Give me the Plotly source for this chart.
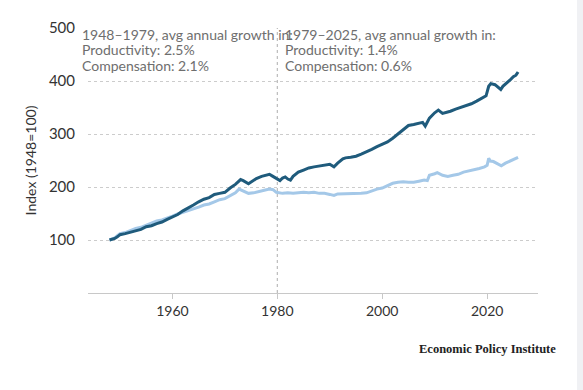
import plotly.graph_objects as go

prod_years = [1948.0, 1948.5, 1949.0, 1949.5, 1950.0, 1951.0, 1952.0, 1953.0, 1954.0, 1955.0,
              1956.0, 1957.0, 1958.0, 1959.0, 1960.0, 1961.0, 1962.0, 1963.0, 1964.0, 1965.0,
              1966.0, 1967.0, 1968.0, 1969.0, 1970.0, 1971.0, 1972.0, 1973.0, 1973.5, 1974.5,
              1975.0, 1976.0, 1977.0, 1978.0, 1978.5, 1979.0, 1979.5, 1980.5, 1981.0, 1981.5,
              1982.0, 1982.5, 1983.0, 1984.0, 1985.0, 1986.0, 1987.0, 1988.0, 1989.0, 1990.0,
              1990.8, 1991.5, 1992.5, 1993.0, 1994.0, 1995.0, 1996.0, 1997.0, 1998.0, 1999.0,
              2000.0, 2001.0, 2002.0, 2002.5, 2003.5, 2004.5, 2005.0, 2006.0, 2007.0, 2007.7,
              2008.2, 2009.0, 2010.0, 2010.7, 2011.5, 2012.0, 2013.0, 2014.0, 2015.0, 2016.0,
              2017.0, 2018.0, 2019.0, 2019.8, 2020.3, 2020.7, 2021.5, 2022.0, 2022.6, 2023.0,
              2024.0, 2024.5, 2025.0, 2025.5, 2025.9]
productivity = [100, 101, 103, 106, 110, 112, 115, 118, 120, 125,
                127, 131, 134, 139, 143, 148, 155, 160, 166, 172,
                177, 180, 186, 188, 190, 198, 205, 214, 212, 206,
                209, 216, 220, 222, 224, 221, 218, 212, 217, 219,
                215, 213, 220, 228, 232, 236, 238, 240, 242, 243,
                238, 245, 253, 255, 256, 258, 262, 266, 271, 276,
                280, 285, 292, 296, 305, 312, 316, 318, 320, 322,
                315, 330, 340, 345, 339, 340, 343, 347, 350, 353,
                357, 362, 368, 372, 390, 395, 393, 388, 384, 390,
                398, 403, 408, 411, 417]

comp_years = [1948.0, 1948.5, 1949.0, 1949.5, 1950.0, 1951.0, 1952.0, 1953.0, 1954.0, 1955.0,
              1956.0, 1957.0, 1958.0, 1959.0, 1960.0, 1961.0, 1962.0, 1963.0, 1964.0, 1965.0,
              1966.0, 1967.0, 1968.0, 1969.0, 1970.0, 1971.0, 1972.0, 1972.7, 1973.5, 1974.5,
              1975.5, 1976.5, 1977.5, 1978.5, 1979.2, 1979.8, 1981.0, 1982.0, 1983.0, 1984.0,
              1985.0, 1986.0, 1987.0, 1988.0, 1989.0, 1990.0, 1990.8, 1991.5, 1992.5, 1994.0,
              1995.0, 1996.0, 1997.0, 1998.0, 1999.0, 2000.0, 2001.0, 2002.0, 2003.0, 2004.0,
              2005.0, 2006.0, 2007.0, 2008.0, 2008.6, 2009.0, 2010.0, 2010.5, 2011.5, 2012.5,
              2013.5, 2014.5, 2015.5, 2016.5, 2017.5, 2018.5, 2019.5, 2020.0, 2020.3, 2020.6,
              2021.2, 2022.0, 2022.7, 2023.5, 2024.5, 2025.3, 2025.9]
compensation = [100, 102, 104, 108, 112, 114, 118, 122, 124, 128,
                132, 136, 138, 141, 145, 149, 152, 155, 158, 162,
                166, 168, 172, 176, 178, 183, 189, 196, 192, 188,
                189, 192, 194, 196, 195, 190, 188, 189, 188, 189,
                190, 189, 190, 188, 188, 186, 184, 187, 187, 188,
                188, 188, 189, 193, 196, 198, 202, 207, 209, 210,
                209, 209, 211, 213, 212, 222, 225, 227, 222, 220,
                222, 224, 228, 230, 232, 235, 238, 241, 254, 249,
                248, 243, 240, 245, 250, 254, 256]

y_ticks = [100, 200, 300, 400, 500]
x_ticks = [1960, 1980, 2000, 2020]
split_year = 1980

note_left = ["1948–1979, avg annual growth in:", "Productivity: 2.5%", "Compensation: 2.1%"]
note_right = ["1979–2025, avg annual growth in:", "Productivity: 1.4%", "Compensation: 0.6%"]

fig = go.Figure()
fig.add_trace(go.Scatter(x=comp_years, y=compensation, mode="lines", name="Compensation",
                         line=dict(color="#a4c8e8", width=3)))
fig.add_trace(go.Scatter(x=prod_years, y=productivity, mode="lines", name="Productivity",
                         line=dict(color="#1f5b7c", width=3)))

fig.add_shape(type="line", xref="x", yref="y", x0=split_year, x1=split_year, y0=0, y1=500,
              line=dict(color="#bbbbbb", width=1.2, dash="dot"), layer="below")
fig.add_shape(type="rect", xref="paper", yref="paper", x0=1.0867, x1=1.12, y0=-0.5, y1=1.2,
              fillcolor="#f0f1f4", line=dict(width=0), layer="below")

anns = []
for i, t in enumerate(note_left):
    anns.append(dict(x=0.0, xref="paper", xanchor="left", xshift=-8, y=1.0, yref="paper",
                     yanchor="middle", yshift=-6 - i * 15.5, text=t, showarrow=False,
                     font=dict(family="Lato", size=14, color="#6e6e6e")))
for i, t in enumerate(note_right):
    anns.append(dict(x=split_year, xref="x", xanchor="left", xshift=6, y=1.0, yref="paper",
                     yanchor="middle", yshift=-6 - i * 15.5, text=t, showarrow=False,
                     font=dict(family="Lato", size=14, color="#6e6e6e")))
anns.append(dict(x=558, xref="paper", y=349, yref="paper", text="<b>Economic Policy Institute</b>",
                 showarrow=False, xanchor="right", yanchor="middle",
                 font=dict(family="Liberation Serif", size=12.5, color="#222222")))
# convert pixel position of the credit to paper coords
anns[-1]["x"] = (558 - 88) / 450
anns[-1]["y"] = (293 - 349) / 265

fig.update_layout(
    width=583, height=390,
    margin=dict(l=88, r=45, t=28, b=97),
    paper_bgcolor="white", plot_bgcolor="white",
    showlegend=False,
    font=dict(family="Lato", size=14, color="#333333"),
    annotations=anns,
    xaxis=dict(range=[1943.9, 2029.7], tickvals=x_ticks, showgrid=False, zeroline=False,
               showline=True, linecolor="#c8c8c8", linewidth=1.2,
               ticks="outside", ticklen=5, tickcolor="#c8c8c8",
               tickfont=dict(family="Lato", size=14, color="#333333")),
    yaxis=dict(range=[0, 500], tickvals=y_ticks, showgrid=True, gridcolor="#cccccc",
               griddash="dot", gridwidth=1, zeroline=False, showline=False, ticks="",
               ticklabelstandoff=12,
               tickfont=dict(family="Lato", size=15, color="#333333"),
               title=dict(text="Index (1948=100)", standoff=8,
                          font=dict(family="Lato", size=14, color="#333333"))),
)

fig.write_html("out.html")
